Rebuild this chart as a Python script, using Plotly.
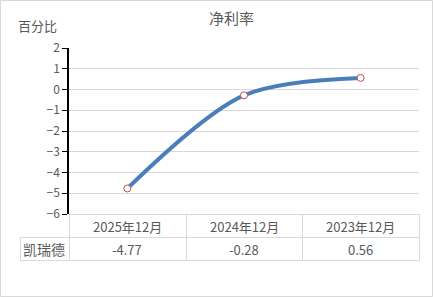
import plotly.graph_objects as go

categories = ["2025年12月", "2024年12月", "2023年12月"]
values = [-4.77, -0.28, 0.56]
series_name = "凯瑞德"
value_labels = ["-4.77", "-0.28", "0.56"]
y_ticks = [-6, -5, -4, -3, -2, -1, 0, 1, 2]

W, H = 433, 297
L, R, T, B = 69, 14, 48, 83
pw = W - L - R
ph = H - T - B

def px(x):
    return (x - L) / pw

def py(y):
    return (H - B - y) / ph

FONT = "Noto Sans CJK SC"
GREY = "#595959"
GRID = "#d9d9d9"

fig = go.Figure()
fig.add_trace(go.Scatter(
    x=categories, y=values, mode="lines+markers",
    line=dict(color="#4a7ebb", width=4, shape="spline", smoothing=0.9),
    marker=dict(size=7, color="white", line=dict(color="#c0504d", width=1)),
    showlegend=False, hoverinfo="skip",
))

shapes = []
def hline(x0, x1, y):
    shapes.append(dict(type="line", xref="paper", yref="paper",
                       x0=px(x0), x1=px(x1), y0=py(y), y1=py(y),
                       line=dict(color=GRID, width=1)))
def vline(x, y0, y1):
    shapes.append(dict(type="line", xref="paper", yref="paper",
                       x0=px(x), x1=px(x), y0=py(y0), y1=py(y1),
                       line=dict(color=GRID, width=1)))

hline(69, 419.5, 214.5)
hline(20, 419.5, 237.5)
hline(20, 419.5, 260.5)
vline(20.5, 237.5, 260.5)
vline(69.5, 214.5, 260.5)
vline(186.5, 214.5, 260.5)
vline(302.5, 214.5, 260.5)
vline(419.5, 214.5, 260.5)
# outer border
shapes.append(dict(type="rect", xref="paper", yref="paper",
                   x0=px(0.5), x1=px(432.5), y0=py(296.5), y1=py(0.5),
                   line=dict(color="#d9d9d9", width=1), layer="below"))

def ann(x, xref, y, text, size):
    return dict(x=x, xref=xref, y=y, yref="paper", text=text, showarrow=False,
                xanchor="center", yanchor="middle",
                font=dict(family=FONT, size=size, color=GREY))

annotations = []
for c in categories:
    annotations.append(ann(c, "x", py(226), c, 13))
for c, t in zip(categories, value_labels):
    annotations.append(ann(c, "x", py(249), t, 13))
annotations.append(ann(px(44), "paper", py(249), series_name, 14))
annotations.append(ann(px(37), "paper", py(26), "百分比", 13))
annotations.append(ann(px(231), "paper", py(18), "净利率", 15))

fig.update_layout(
    width=W, height=H,
    margin=dict(l=L, r=R, t=T, b=B),
    paper_bgcolor="white", plot_bgcolor="white",
    xaxis=dict(type="category", range=[-0.5, 2.5], showticklabels=False,
               showgrid=False, zeroline=False, showline=False, ticks=""),
    yaxis=dict(range=[-6, 2], tickvals=y_ticks, showgrid=True, gridcolor=GRID,
               zeroline=False, showline=True, linecolor="black", linewidth=1.5,
               ticks="outside", ticklen=5, tickcolor="black",
               tickfont=dict(family=FONT, size=12, color=GREY)),
    shapes=shapes, annotations=annotations,
)

fig.write_html("out.html")
